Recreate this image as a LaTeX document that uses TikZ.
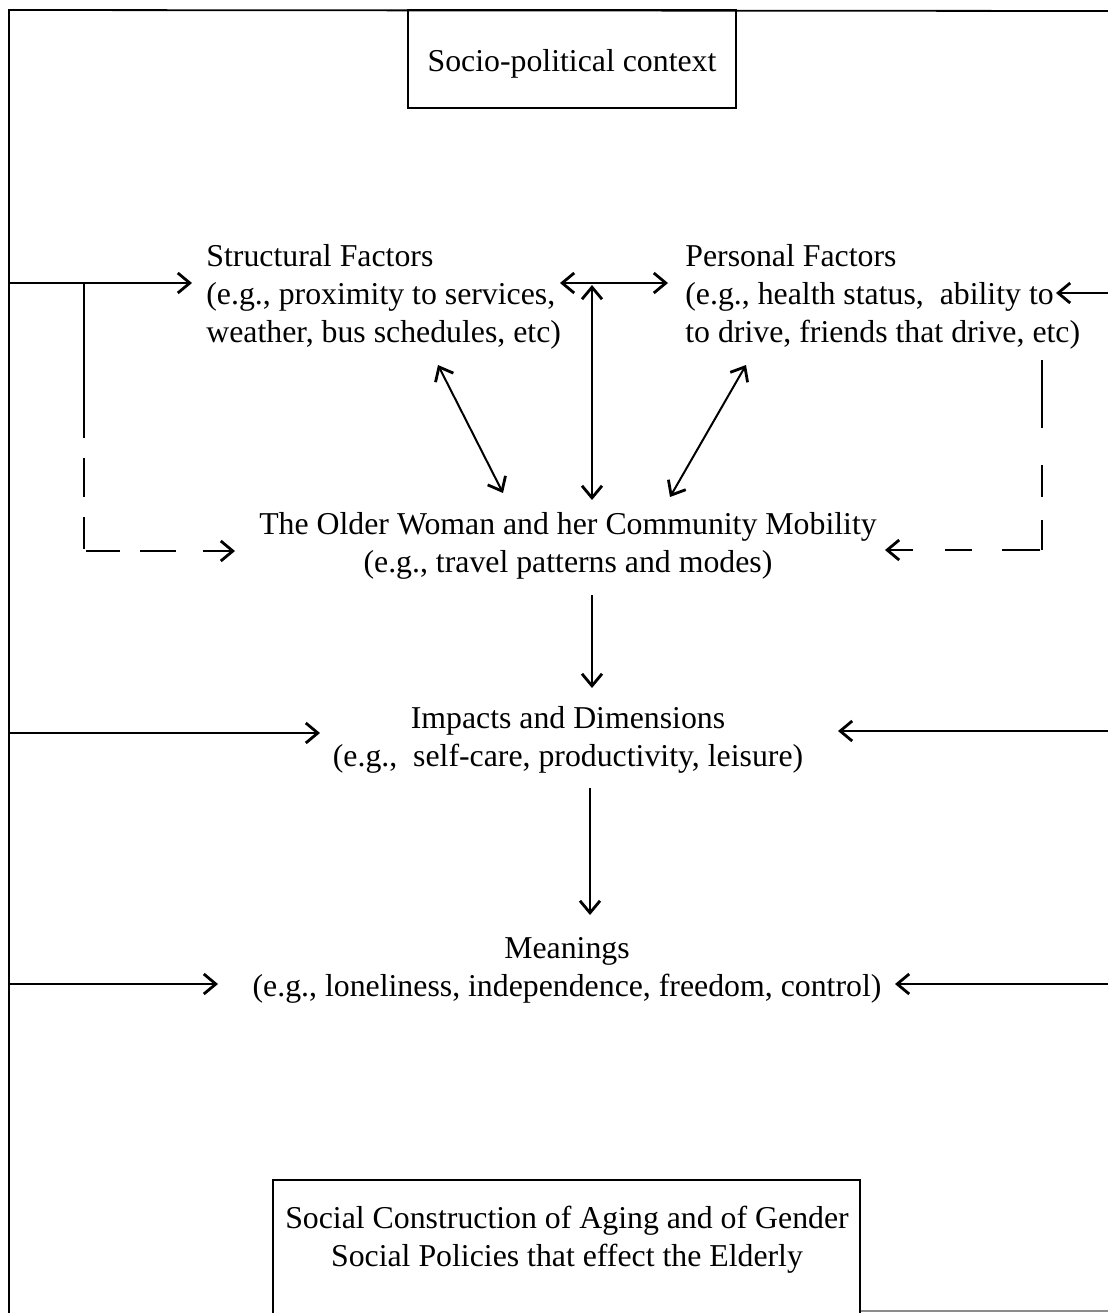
\documentclass[tikz,border=0pt]{standalone}
\usepackage{fontspec}
\setmainfont{Liberation Serif}
\usetikzlibrary{arrows.meta}
\begin{document}
\begin{tikzpicture}[x=0.5pt,y=-0.5pt,
  txt/.style={font=\fontsize{15.9}{19}\selectfont, inner sep=0pt},
  frame/.style={line width=0.9pt},
  conn/.style={line width=1pt},
  tip/.tip={Straight Barb[length=6pt,width=10pt,line width=1.4pt]},
  arr/.style={conn,-tip},
  darr/.style={conn,tip-tip},
  dsh/.style={conn}
]
\useasboundingbox (0,0) rectangle (1108,1313);
% outer frame
\coordinate (ftr) at (1108,11);
\coordinate (ftl) at (9,10);
\coordinate (fbl) at (9,1313);
\coordinate (fb1) at (860,1311);
\coordinate (fb2) at (1108,1311);
\draw[frame] (ftr) -- (ftl) -- (fbl);
\draw[frame, black!45] (fb1) -- (fb2);

% top box
\node[txt, draw, frame, minimum width=164pt, minimum height=49pt, text depth=0pt, text height=12pt] (spc) at (572,59) {Socio-political context};

% text blocks
\node[txt, anchor=west, align=left] (sf) at (206,297)
  {Structural Factors\\(e.g., proximity to services,\\weather, bus schedules, etc)};
\node[txt, anchor=west, align=left] (pf) at (685,297)
  {Personal Factors\\(e.g., health status,~ ability to\\to drive, friends that drive, etc)};
\node[txt, align=center] (ow) at (568,546)
  {The Older Woman and her Community Mobility\\(e.g., travel patterns and modes)};
\node[txt, align=center] (imp) at (568,740)
  {Impacts and Dimensions\\(e.g.,~ self-care, productivity, leisure)};
\node[txt, align=center] (mn) at (567,970)
  {Meanings\\(e.g., loneliness, independence, freedom, control)};
\node[txt, align=center] (scag) at (567,1240)
  {Social Construction of Aging and of Gender\\Social Policies that effect the Elderly};

% bottom box (open at the bottom)
\coordinate (bb1) at (273,1313);
\coordinate (bb2) at (273,1180);
\coordinate (bb3) at (860,1180);
\coordinate (bb4) at (860,1313);
\draw[frame] (bb1) -- (bb2) -- (bb3) -- (bb4);

% left input to structural factors
\coordinate (l1a) at (9,283);
\coordinate (l1b) at (192,283);
\draw[arr] (l1a) -- (l1b);
% left dashed branch to older woman
\coordinate (lb0) at (84,283);
\coordinate (lb1) at (84,438);
\coordinate (lb2) at (84,458);
\coordinate (lb3) at (84,497);
\coordinate (lb4) at (84,517);
\coordinate (lb5) at (84,549);
\coordinate (lh1) at (86,551);
\coordinate (lh2) at (120,551);
\coordinate (lh3) at (140,551);
\coordinate (lh4) at (176,551);
\coordinate (lh5) at (203,551);
\coordinate (lh6) at (235,551);
\draw[dsh] (lb0) -- (lb1);
\draw[dsh] (lb2) -- (lb3);
\draw[dsh] (lb4) -- (lb5);
\draw[dsh] (lh1) -- (lh2);
\draw[dsh] (lh3) -- (lh4);
\draw[arr] (lh5) -- (lh6);

% structural <-> personal
\coordinate (sp1) at (560,283);
\coordinate (sp2) at (668,283);
\draw[darr] (sp1) -- (sp2);
% vertical double arrow
\coordinate (v1) at (592,285);
\coordinate (v2) at (592,500);
\draw[darr] (v1) -- (v2);
% diagonals
\coordinate (d1a) at (438,365);
\coordinate (d1b) at (503,493);
\draw[darr] (d1a) -- (d1b);
\coordinate (d2a) at (746,365);
\coordinate (d2b) at (670,497);
\draw[darr] (d2a) -- (d2b);

% right input to personal factors
\coordinate (r1a) at (1108,293);
\coordinate (r1b) at (1056,293);
\draw[arr] (r1a) -- (r1b);
% right dashed branch
\coordinate (rb1) at (1042,360);
\coordinate (rb2) at (1042,428);
\coordinate (rb3) at (1042,465);
\coordinate (rb4) at (1042,497);
\coordinate (rb5) at (1042,520);
\coordinate (rb6) at (1042,550);
\coordinate (rh1) at (1040,550);
\coordinate (rh2) at (1002,550);
\coordinate (rh3) at (972,550);
\coordinate (rh4) at (945,550);
\coordinate (rh5) at (913,550);
\coordinate (rh6) at (885,550);
\draw[dsh] (rb1) -- (rb2);
\draw[dsh] (rb3) -- (rb4);
\draw[dsh] (rb5) -- (rb6);
\draw[dsh] (rh1) -- (rh2);
\draw[dsh] (rh3) -- (rh4);
\draw[arr] (rh5) -- (rh6);

% down arrows
\coordinate (dn1a) at (592,595);
\coordinate (dn1b) at (592,688);
\draw[arr] (dn1a) -- (dn1b);
\coordinate (dn2a) at (590,788);
\coordinate (dn2b) at (590,915);
\draw[arr] (dn2a) -- (dn2b);

% impacts inputs
\coordinate (il1) at (9,733);
\coordinate (il2) at (320,733);
\draw[arr] (il1) -- (il2);
\coordinate (ir1) at (1108,731);
\coordinate (ir2) at (838,731);
\draw[arr] (ir1) -- (ir2);

% meanings inputs
\coordinate (ml1) at (9,984);
\coordinate (ml2) at (218,984);
\draw[arr] (ml1) -- (ml2);
\coordinate (mr1) at (1108,984);
\coordinate (mr2) at (895,984);
\draw[arr] (mr1) -- (mr2);
\end{tikzpicture}
\end{document}
